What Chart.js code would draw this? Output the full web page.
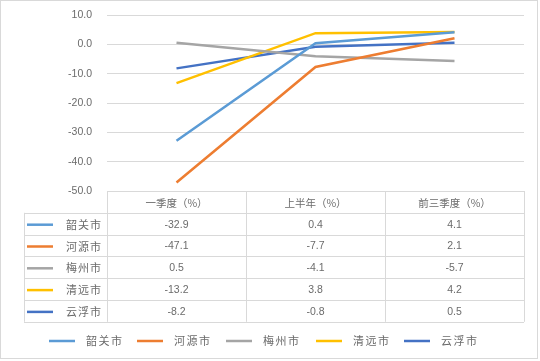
<!DOCTYPE html>
<html>
<head>
<meta charset="utf-8">
<script src="https://cdn.jsdelivr.net/npm/chart.js@4/dist/chart.umd.min.js"></script>
<style>
  html, body { margin: 0; padding: 0; background: #fff; }
  #wrap { width: 540px; height: 361px; position: relative; }
</style>
</head>
<body>
<div id="wrap"><canvas id="lineChart" width="540" height="361"></canvas></div>
<script>
// 数据
const categories = ["一季度（%）", "上半年（%）", "前三季度（%）"];
const cities = ["韶关市", "河源市", "梅州市", "清远市", "云浮市"];
const shaoguan = [-32.9, 0.4, 4.1];
const heyuan = [-47.1, -7.7, 2.1];
const meizhou = [0.5, -4.1, -5.7];
const qingyuan = [-13.2, 3.8, 4.2];
const yunfu = [-8.2, -0.8, 0.5];
const yTicks = [10, 0, -10, -20, -30, -40, -50];

const seriesValues = [shaoguan, heyuan, meizhou, qingyuan, yunfu];
const colors = ["#5B9BD5", "#ED7D31", "#A5A5A5", "#FFC000", "#4472C4"];

const textColor = "#6B6B6B";
const gridColor = "#D9D9D9";
const cjkFont = "'Noto Sans CJK SC', 'Noto Sans', sans-serif";

// 表格 + 图例插件
const tablePlugin = {
  id: "dataTable",
  afterDraw(chart) {
    const ctx = chart.ctx;
    const area = chart.chartArea;
    const x = chart.scales.x;
    const left = area.left, right = area.right;
    const top = area.bottom;
    const colW = (right - left) / categories.length;
    const rowH = 21.8;
    const labelLeft = 24;
    const nRows = cities.length;
    const bottom = top + rowH * (nRows + 1);

    ctx.save();
    ctx.strokeStyle = gridColor;
    ctx.lineWidth = 1;
    // 横线
    ctx.beginPath();
    ctx.moveTo(left, Math.round(top) + 0.5);
    ctx.lineTo(right, Math.round(top) + 0.5);
    for (let r = 1; r <= nRows + 1; r++) {
      const y = Math.round(top + r * rowH) + 0.5;
      ctx.moveTo(labelLeft, y);
      ctx.lineTo(right, y);
    }
    // 竖线
    for (let c = 0; c <= categories.length; c++) {
      const xx = Math.round(left + c * colW) + 0.5;
      ctx.moveTo(xx, top);
      ctx.lineTo(xx, bottom);
    }
    ctx.moveTo(labelLeft + 0.5, top + rowH);
    ctx.lineTo(labelLeft + 0.5, bottom);
    ctx.stroke();

    ctx.fillStyle = textColor;
    ctx.textBaseline = "middle";
    ctx.textAlign = "center";
    // 表头
    ctx.font = "10.5px " + cjkFont;
    categories.forEach((c, i) => {
      ctx.fillText(c, x.getPixelForValue(i), top + rowH / 2 + 1);
    });
    // 数据行
    chart.data.datasets.forEach((ds, r) => {
      const cy = top + rowH * (r + 1) + rowH / 2 + 1;
      ctx.strokeStyle = ds.borderColor;
      ctx.lineWidth = 2.5;
      ctx.beginPath();
      ctx.moveTo(27, cy);
      ctx.lineTo(53, cy);
      ctx.stroke();
      ctx.textAlign = "left";
      ctx.font = "11px " + cjkFont;
      ctx.letterSpacing = "1px";
      ctx.fillText(ds.label, 66, cy);
      ctx.letterSpacing = "0px";
      ctx.textAlign = "center";
      ctx.font = "10.5px 'Liberation Sans', sans-serif";
      ds.data.forEach((v, i) => {
        ctx.fillText(v.toFixed(1), x.getPixelForValue(i), cy);
      });
    });

    // 底部图例
    const legendY = 341;
    const starts = [49, 137, 226, 316, 404];
    chart.data.datasets.forEach((ds, i) => {
      ctx.strokeStyle = ds.borderColor;
      ctx.lineWidth = 2.5;
      ctx.beginPath();
      ctx.moveTo(starts[i], legendY);
      ctx.lineTo(starts[i] + 26, legendY);
      ctx.stroke();
      ctx.textAlign = "left";
      ctx.font = "11px " + cjkFont;
      ctx.letterSpacing = "1.5px";
      ctx.fillText(ds.label, starts[i] + 37, legendY);
      ctx.letterSpacing = "0px";
    });

    // 外框
    ctx.strokeStyle = gridColor;
    ctx.lineWidth = 1;
    ctx.strokeRect(0.5, 0.5, 537, 358);
    ctx.restore();
  }
};

const datasets = cities.map((name, i) => ({
  label: name,
  data: seriesValues[i],
  borderColor: colors[i],
  backgroundColor: colors[i],
  borderWidth: 2.5,
  pointRadius: 0,
  tension: 0,
  fill: false,
}));

const config = {
  type: "line",
  data: { labels: categories, datasets: datasets },
  options: {
    responsive: false,
    animation: false,
    layout: { padding: { left: 0, top: 15, right: 16, bottom: 170 } },
    plugins: {
      legend: { display: false },
      tooltip: { enabled: false },
    },
    scales: {
      x: {
        display: false,
        offset: true,
      },
      y: {
        min: -50,
        max: 10,
        afterFit(scale) {
          scale.width = 107;
          scale.paddingTop = 0;
          scale.paddingBottom = 0;
        },
        afterBuildTicks(scale) { scale.ticks = yTicks.map((v) => ({ value: v })); },
        border: { display: false },
        grid: { color: gridColor, drawTicks: false },
        ticks: {
          padding: 15,
          color: textColor,
          font: { family: "'Liberation Sans', sans-serif", size: 10.5 },
          callback: (v) => Number(v).toFixed(1),
        },
      },
    },
  },
  plugins: [tablePlugin],
};

const myLineChart = new Chart(document.getElementById("lineChart"), config);
</script>
</body>
</html>
